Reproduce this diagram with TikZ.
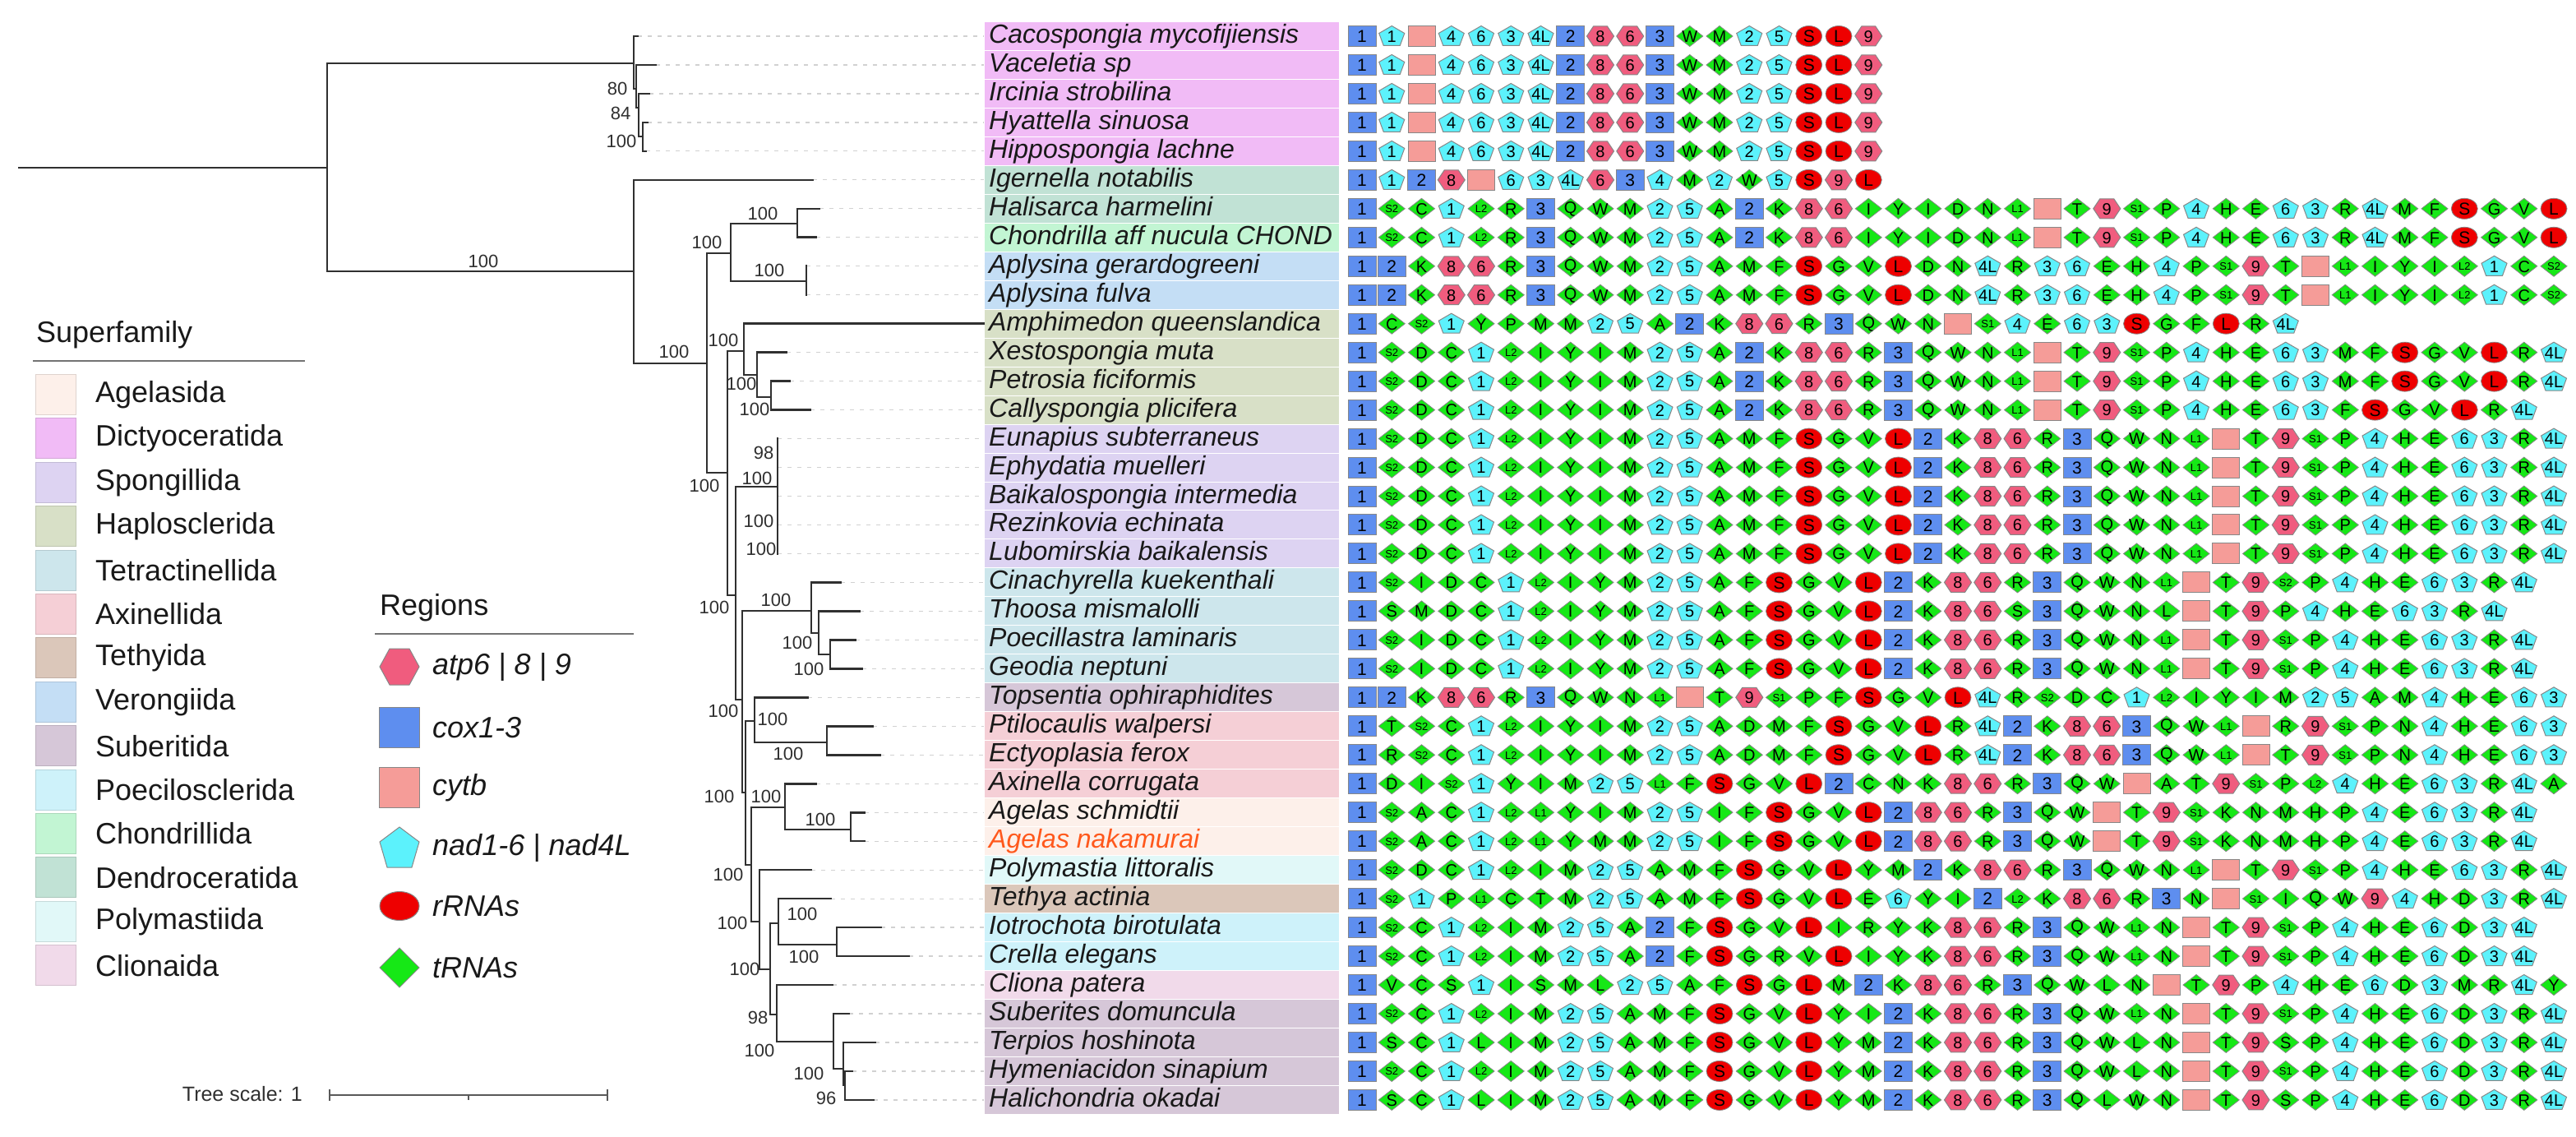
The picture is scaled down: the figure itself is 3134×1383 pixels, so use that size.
\documentclass[tikz,border=0pt]{standalone}
\usepackage{fontspec}
\setmainfont{Liberation Sans}
\usetikzlibrary{calc}
\pgfdeclarelayer{bg}
\pgfsetlayers{bg,main}
% gene colours
\definecolor{coxc}{RGB}{94,142,239}
\definecolor{cytbc}{RGB}{245,156,152}
\definecolor{nadc}{RGB}{92,242,252}
\definecolor{atpc}{RGB}{240,92,126}
\definecolor{rrnac}{RGB}{238,0,0}
\definecolor{trnac}{RGB}{22,232,22}
\definecolor{edgec}{RGB}{135,135,135}
\definecolor{rowlc}{RGB}{150,150,150}
\definecolor{treec}{RGB}{48,48,48}
\definecolor{labtxt}{RGB}{25,25,25}
\definecolor{orangelab}{RGB}{255,88,28}
% superfamily colours
\definecolor{agel}{RGB}{253,240,234}
\definecolor{dict}{RGB}{241,187,246}
\definecolor{spon}{RGB}{221,211,242}
\definecolor{hapl}{RGB}{216,224,199}
\definecolor{tetr}{RGB}{205,230,236}
\definecolor{axin}{RGB}{245,207,214}
\definecolor{teth}{RGB}{219,199,186}
\definecolor{vero}{RGB}{196,222,245}
\definecolor{sube}{RGB}{214,199,216}
\definecolor{poec}{RGB}{206,242,250}
\definecolor{chon}{RGB}{194,245,211}
\definecolor{dend}{RGB}{193,226,213}
\definecolor{poly}{RGB}{225,248,248}
\definecolor{clio}{RGB}{241,218,234}

\def\splitgene#1#2\relax{\def\gtype{#1}\def\glabel{#2}}
\newcommand\gshapeB{\filldraw[fill=coxc,draw=edgec,line width=1pt] (-17,-12.5) rectangle (17,12.5);}
\newcommand\gshapeY{\filldraw[fill=cytbc,draw=edgec,line width=1pt] (-16.5,-12.5) rectangle (16.5,12.5);}
\newcommand\gshapeN{\filldraw[fill=nadc,draw=edgec,line width=1pt] (0,-12.5) -- (15.5,-3.5) -- (10,11.5) -- (-10,11.5) -- (-15.5,-3.5) -- cycle;}
\newcommand\gshapeA{\filldraw[fill=atpc,draw=edgec,line width=1pt] (-16.5,0) -- (-8.5,-12) -- (8.5,-12) -- (16.5,0) -- (8.5,12) -- (-8.5,12) -- cycle;}
\newcommand\gshapeR{\filldraw[fill=rrnac,draw=edgec,line width=0.8pt] (0,0) ellipse [x radius=16pt, y radius=12.5pt];}
\newcommand\gshapeT{\filldraw[fill=trnac,draw=edgec,line width=0.8pt] (-16,0) -- (0,-12.5) -- (16,0) -- (0,12.5) -- cycle;}
\let\gshapeU\gshapeT
\def\gfontB{\fontsize{21}{21}\selectfont}
\def\gfontY{\fontsize{21}{21}\selectfont}
\def\gfontN{\fontsize{20}{20}\selectfont}
\def\gfontA{\fontsize{20}{20}\selectfont}
\def\gfontR{\fontsize{21}{21}\selectfont}
\def\gfontT{\fontsize{20}{20}\selectfont}
\def\gfontU{\fontsize{13}{13}\selectfont}

\newcommand\generow[2]{%
  \pgfmathsetmacro\gy{44+34.97*#1}%
  \foreach \gitem [count=\k from 0] in {#2}{%
    \expandafter\splitgene\gitem\relax
    \pgfmathsetmacro\gx{1657+36.25*\k}%
    \begin{scope}[shift={(\gx,\gy)}]
      \csname gshape\gtype\endcsname
      \node[gtext] (g-#1-\k) at (0,0.5) {\csname gfont\gtype\endcsname\glabel};
    \end{scope}
    \xdef\lastk{\k}%
  }%
  \begin{pgfonlayer}{bg}
    \draw[rowline] (g-#1-0.center) -- (g-#1-\lastk.center);
  \end{pgfonlayer}%
}

\tikzset{
  tree/.style={draw=treec,line width=2.6pt,line cap=rect},
  leader/.style={draw=black!18,line width=1.2pt,dash pattern=on 5pt off 7pt},
  bs/.style={font=\fontsize{22}{22}\selectfont,text=treec,inner sep=0pt},
  splab/.style={anchor=west,inner sep=0pt,minimum width=432pt,minimum height=35pt,
    draw=white,line width=1pt},
  sptext/.style={anchor=base west,inner sep=0pt,font=\fontsize{32}{32}\selectfont\itshape},
  gtext/.style={inner sep=0pt,text=black},
  rowline/.style={draw=rowlc,line width=1.5pt},
  legtext/.style={anchor=west,inner sep=0pt,text=labtxt,font=\fontsize{36}{36}\selectfont},
  legitext/.style={anchor=west,inner sep=0pt,text=labtxt,font=\fontsize{36}{36}\selectfont\itshape},
  legsq/.style={minimum width=49pt,minimum height=49pt,inner sep=0pt,line width=1pt},
  legrule/.style={draw=black!55,line width=2pt},
}

\begin{document}
\begin{tikzpicture}[x=1pt,y=-1pt]
\fill[white] (0,0) rectangle (3134,1383);
\useasboundingbox (0,0) rectangle (3134,1383);

% ---------------- species labels ----------------
\foreach \i/\nm/\col/\tc in {
0/Cacospongia mycofijiensis/dict/labtxt,
1/Vaceletia sp/dict/labtxt,
2/Ircinia strobilina/dict/labtxt,
3/Hyattella sinuosa/dict/labtxt,
4/Hippospongia lachne/dict/labtxt,
5/Igernella notabilis/dend/labtxt,
6/Halisarca harmelini/dend/labtxt,
7/Chondrilla aff nucula CHOND/chon/labtxt,
8/Aplysina gerardogreeni/vero/labtxt,
9/Aplysina fulva/vero/labtxt,
10/Amphimedon queenslandica/hapl/labtxt,
11/Xestospongia muta/hapl/labtxt,
12/Petrosia ficiformis/hapl/labtxt,
13/Callyspongia plicifera/hapl/labtxt,
14/Eunapius subterraneus/spon/labtxt,
15/Ephydatia muelleri/spon/labtxt,
16/Baikalospongia intermedia/spon/labtxt,
17/Rezinkovia echinata/spon/labtxt,
18/Lubomirskia baikalensis/spon/labtxt,
19/Cinachyrella kuekenthali/tetr/labtxt,
20/Thoosa mismalolli/tetr/labtxt,
21/Poecillastra laminaris/tetr/labtxt,
22/Geodia neptuni/tetr/labtxt,
23/Topsentia ophiraphidites/sube/labtxt,
24/Ptilocaulis walpersi/axin/labtxt,
25/Ectyoplasia ferox/axin/labtxt,
26/Axinella corrugata/axin/labtxt,
27/Agelas schmidtii/agel/labtxt,
28/Agelas nakamurai/agel/orangelab,
29/Polymastia littoralis/poly/labtxt,
30/Tethya actinia/teth/labtxt,
31/Iotrochota birotulata/poec/labtxt,
32/Crella elegans/poec/labtxt,
33/Cliona patera/clio/labtxt,
34/Suberites domuncula/sube/labtxt,
35/Terpios hoshinota/sube/labtxt,
36/Hymeniacidon sinapium/sube/labtxt,
37/Halichondria okadai/sube/labtxt}{
  \pgfmathsetmacro\yy{44+34.97*\i}
  \pgfmathsetmacro\yb{\yy+8.5}
  \node[splab,fill=\col] (lab\i) at (1197,\yy) {};
  \node[sptext,text=\tc] (labt\i) at (1203,\yb) {\nm};
}

% ---------------- tree ----------------
\foreach \i/\lx in {0/776,1/798,2/790,3/788,4/786,5/989,6/997,7/993,8/981,9/981,10/1197,
  11/957,12/961,13/986,14/946,15/946,16/946,17/946,18/946,19/1023,20/1046,21/1041,22/1049,
  23/983,24/1062,25/1071,26/993,27/1052,28/1052,29/987,30/1011,31/1072,32/1106,33/1013,
  34/1033,35/1065,36/1037,37/1063}{
  \pgfmathsetmacro\yy{44+34.97*\i}
  \coordinate (lf\i) at (\lx,\yy);
}
\foreach \i in {0,...,9,11,12,...,37}{
  \draw[leader] (lf\i) -- (lf\i -| lab\i.west);
}
\coordinate (rootstart) at (23,204);
\coordinate (R0) at (398,204);
\coordinate (D) at (771,77);
\coordinate (B) at (774,108);
\coordinate (C) at (777,131);
\coordinate (Dn) at (782,166);
\coordinate (E) at (771,330);
\coordinate (F) at (860,442);
\coordinate (G) at (889,308);
\coordinate (H) at (970,272);
\coordinate (I) at (981,342);
\coordinate (J) at (885,575);
\coordinate (K) at (905,427);
\coordinate (L) at (921,456);
\coordinate (M) at (938,483);
\coordinate (N) at (895,724);
\coordinate (O) at (946,592);
\coordinate (P) at (903,851);
\coordinate (Q) at (987,743);
\coordinate (R) at (996,770);
\coordinate (S) at (1010,796);
\coordinate (X) at (907,964);
\coordinate (V) at (918,877);
\coordinate (W) at (1006,903);
\coordinate (Y) at (914,1052);
\coordinate (Z) at (955,982);
\coordinate (AA) at (1035,1009);
\coordinate (AB) at (924,1121);
\coordinate (AC) at (937,1179);
\coordinate (AD) at (947,1123);
\coordinate (AE) at (1018,1149);
\coordinate (AF) at (945,1234);
\coordinate (AG) at (1014,1267);
\coordinate (AH) at (1026,1300);
\coordinate (AI) at (1028,1320);

\draw[tree] (rootstart) -- (R0);
\foreach \p/\c in {R0/D,R0/E,D/lf0,D/B,B/lf1,B/C,C/lf2,C/Dn,Dn/lf3,Dn/lf4,
  E/lf5,E/F,F/G,F/J,G/H,G/I,H/lf6,H/lf7,I/lf8,I/lf9,
  J/K,J/N,K/lf10,K/L,L/lf11,L/M,M/lf12,M/lf13,
  N/O,N/P,O/lf14,O/lf15,O/lf16,O/lf17,O/lf18,
  P/Q,P/X,Q/lf19,Q/R,R/lf20,R/S,S/lf21,S/lf22,
  X/V,X/Y,V/lf23,V/W,W/lf24,W/lf25,
  Y/Z,Y/AB,Z/lf26,Z/AA,AA/lf27,AA/lf28,
  AB/lf29,AB/AC,AC/AD,AC/AF,AD/lf30,AD/AE,AE/lf31,AE/lf32,
  AF/lf33,AF/AG,AG/lf34,AG/AH,AH/lf35,AH/AI,AI/lf36,AI/lf37}{
  \draw[tree] (\p) |- (\c);
}

% bootstrap values
\foreach \t/\bx/\by [count=\n] in {100/588/318,80/751/108,84/755/138,100/756/172,
  100/820/428,100/860/295,100/928/260,100/936/329,100/857/591,100/880/414,
  100/902/467,100/918/498,100/869/739,98/929/551,100/921/582,100/923/634,
  100/926/668,100/944/730,100/970/782,100/984/814,100/880/865,100/940/875,
  100/959/917,100/875/969,100/932/969,100/998/997,100/886/1064,100/891/1123,
  100/976/1112,100/978/1164,100/906/1179,98/922/1238,100/924/1278,
  100/984/1306,96/1005/1336}{
  \node[bs] (bs\n) at (\bx,\by) {\t};
}

% ---------------- gene orders ----------------
\generow{0}{B1,N1,Y,N4,N6,N3,N4L,B2,A8,A6,B3,TW,TM,N2,N5,RS,RL,A9}
\generow{1}{B1,N1,Y,N4,N6,N3,N4L,B2,A8,A6,B3,TW,TM,N2,N5,RS,RL,A9}
\generow{2}{B1,N1,Y,N4,N6,N3,N4L,B2,A8,A6,B3,TW,TM,N2,N5,RS,RL,A9}
\generow{3}{B1,N1,Y,N4,N6,N3,N4L,B2,A8,A6,B3,TW,TM,N2,N5,RS,RL,A9}
\generow{4}{B1,N1,Y,N4,N6,N3,N4L,B2,A8,A6,B3,TW,TM,N2,N5,RS,RL,A9}
\generow{5}{B1,N1,B2,A8,Y,N6,N3,N4L,A6,B3,N4,TM,N2,TW,N5,RS,A9,RL}
\generow{6}{B1,US2,TC,N1,UL2,TR,B3,TQ,TW,TM,N2,N5,TA,B2,TK,A8,A6,TI,TY,TI,TD,TN,UL1,Y,TT,A9,US1,TP,N4,TH,TE,N6,N3,TR,N4L,TM,TF,RS,TG,TV,RL}
\generow{7}{B1,US2,TC,N1,UL2,TR,B3,TQ,TW,TM,N2,N5,TA,B2,TK,A8,A6,TI,TY,TI,TD,TN,UL1,Y,TT,A9,US1,TP,N4,TH,TE,N6,N3,TR,N4L,TM,TF,RS,TG,TV,RL}
\generow{8}{B1,B2,TK,A8,A6,TR,B3,TQ,TW,TM,N2,N5,TA,TM,TF,RS,TG,TV,RL,TD,TN,N4L,TR,N3,N6,TE,TH,N4,TP,US1,A9,TT,Y,UL1,TI,TY,TI,UL2,N1,TC,US2}
\generow{9}{B1,B2,TK,A8,A6,TR,B3,TQ,TW,TM,N2,N5,TA,TM,TF,RS,TG,TV,RL,TD,TN,N4L,TR,N3,N6,TE,TH,N4,TP,US1,A9,TT,Y,UL1,TI,TY,TI,UL2,N1,TC,US2}
\generow{10}{B1,TC,US2,N1,TY,TP,TM,TM,N2,N5,TA,B2,TK,A8,A6,TR,B3,TQ,TW,TN,Y,US1,N4,TE,N6,N3,RS,TG,TF,RL,TR,N4L}
\generow{11}{B1,US2,TD,TC,N1,UL2,TI,TY,TI,TM,N2,N5,TA,B2,TK,A8,A6,TR,B3,TQ,TW,TN,UL1,Y,TT,A9,US1,TP,N4,TH,TE,N6,N3,TM,TF,RS,TG,TV,RL,TR,N4L}
\generow{12}{B1,US2,TD,TC,N1,UL2,TI,TY,TI,TM,N2,N5,TA,B2,TK,A8,A6,TR,B3,TQ,TW,TN,UL1,Y,TT,A9,US1,TP,N4,TH,TE,N6,N3,TM,TF,RS,TG,TV,RL,TR,N4L}
\generow{13}{B1,US2,TD,TC,N1,UL2,TI,TY,TI,TM,N2,N5,TA,B2,TK,A8,A6,TR,B3,TQ,TW,TN,UL1,Y,TT,A9,US1,TP,N4,TH,TE,N6,N3,TF,RS,TG,TV,RL,TR,N4L}
\generow{14}{B1,US2,TD,TC,N1,UL2,TI,TY,TI,TM,N2,N5,TA,TM,TF,RS,TG,TV,RL,B2,TK,A8,A6,TR,B3,TQ,TW,TN,UL1,Y,TT,A9,US1,TP,N4,TH,TE,N6,N3,TR,N4L}
\generow{15}{B1,US2,TD,TC,N1,UL2,TI,TY,TI,TM,N2,N5,TA,TM,TF,RS,TG,TV,RL,B2,TK,A8,A6,TR,B3,TQ,TW,TN,UL1,Y,TT,A9,US1,TP,N4,TH,TE,N6,N3,TR,N4L}
\generow{16}{B1,US2,TD,TC,N1,UL2,TI,TY,TI,TM,N2,N5,TA,TM,TF,RS,TG,TV,RL,B2,TK,A8,A6,TR,B3,TQ,TW,TN,UL1,Y,TT,A9,US1,TP,N4,TH,TE,N6,N3,TR,N4L}
\generow{17}{B1,US2,TD,TC,N1,UL2,TI,TY,TI,TM,N2,N5,TA,TM,TF,RS,TG,TV,RL,B2,TK,A8,A6,TR,B3,TQ,TW,TN,UL1,Y,TT,A9,US1,TP,N4,TH,TE,N6,N3,TR,N4L}
\generow{18}{B1,US2,TD,TC,N1,UL2,TI,TY,TI,TM,N2,N5,TA,TM,TF,RS,TG,TV,RL,B2,TK,A8,A6,TR,B3,TQ,TW,TN,UL1,Y,TT,A9,US1,TP,N4,TH,TE,N6,N3,TR,N4L}
\generow{19}{B1,US2,TI,TD,TC,N1,UL2,TI,TY,TM,N2,N5,TA,TF,RS,TG,TV,RL,B2,TK,A8,A6,TR,B3,TQ,TW,TN,UL1,Y,TT,A9,US2,TP,N4,TH,TE,N6,N3,TR,N4L}
\generow{20}{B1,TS,TM,TD,TC,N1,UL2,TI,TY,TM,N2,N5,TA,TF,RS,TG,TV,RL,B2,TK,A8,A6,TS,B3,TQ,TW,TN,TL,Y,TT,A9,TP,N4,TH,TE,N6,N3,TR,N4L}
\generow{21}{B1,US2,TI,TD,TC,N1,UL2,TI,TY,TM,N2,N5,TA,TF,RS,TG,TV,RL,B2,TK,A8,A6,TR,B3,TQ,TW,TN,UL1,Y,TT,A9,US1,TP,N4,TH,TE,N6,N3,TR,N4L}
\generow{22}{B1,US2,TI,TD,TC,N1,UL2,TI,TY,TM,N2,N5,TA,TF,RS,TG,TV,RL,B2,TK,A8,A6,TR,B3,TQ,TW,TN,UL1,Y,TT,A9,US1,TP,N4,TH,TE,N6,N3,TR,N4L}
\generow{23}{B1,B2,TK,A8,A6,TR,B3,TQ,TW,TN,UL1,Y,TT,A9,US1,TP,TF,RS,TG,TV,RL,N4L,TR,US2,TD,TC,N1,UL2,TI,TY,TI,TM,N2,N5,TA,TM,N4,TH,TE,N6,N3}
\generow{24}{B1,TT,US2,TC,N1,UL2,TI,TY,TI,TM,N2,N5,TA,TD,TM,TF,RS,TG,TV,RL,TR,N4L,B2,TK,A8,A6,B3,TQ,TW,UL1,Y,TR,A9,US1,TP,TN,N4,TH,TE,N6,N3}
\generow{25}{B1,TR,US2,TC,N1,UL2,TI,TY,TI,TM,N2,N5,TA,TD,TM,TF,RS,TG,TV,RL,TR,N4L,B2,TK,A8,A6,B3,TQ,TW,UL1,Y,TT,A9,US1,TP,TN,N4,TH,TE,N6,N3}
\generow{26}{B1,TD,TI,US2,N1,TY,TI,TM,N2,N5,UL1,TF,RS,TG,TV,RL,B2,TC,TN,TK,A8,A6,TR,B3,TQ,TW,Y,TA,TT,A9,US1,TP,UL2,N4,TH,TE,N6,N3,TR,N4L,TA}
\generow{27}{B1,US2,TA,TC,N1,UL2,UL1,TY,TI,TM,N2,N5,TI,TF,RS,TG,TV,RL,B2,A8,A6,TR,B3,TQ,TW,Y,TT,A9,US1,TK,TN,TM,TH,TP,N4,TE,N6,N3,TR,N4L}
\generow{28}{B1,US2,TA,TC,N1,UL2,UL1,TY,TM,TM,N2,N5,TI,TF,RS,TG,TV,RL,B2,A8,A6,TR,B3,TQ,TW,Y,TT,A9,US1,TK,TN,TM,TH,TP,N4,TE,N6,N3,TR,N4L}
\generow{29}{B1,US2,TD,TC,N1,UL2,TI,TM,N2,N5,TA,TM,TF,RS,TG,TV,RL,TY,TM,B2,TK,A8,A6,TR,B3,TQ,TW,TN,UL1,Y,TT,A9,US1,TP,N4,TH,TE,N6,N3,TR,N4L}
\generow{30}{B1,US2,N1,TP,UL1,TC,TT,TM,N2,N5,TA,TM,TF,RS,TG,TV,RL,TE,N6,TY,TI,B2,UL2,TK,A8,A6,TR,B3,TN,Y,US1,TI,TQ,TW,A9,N4,TH,TD,N3,TR,N4L}
\generow{31}{B1,US2,TC,N1,UL2,TI,TM,N2,N5,TA,B2,TF,RS,TG,TV,RL,TI,TR,TY,TK,A8,A6,TR,B3,TQ,TW,UL1,TN,Y,TT,A9,US1,TP,N4,TH,TE,N6,TD,N3,N4L}
\generow{32}{B1,US2,TC,N1,UL2,TI,TM,N2,N5,TA,B2,TF,RS,TG,TR,TV,RL,TI,TY,TK,A8,A6,TR,B3,TQ,TW,UL1,TN,Y,TT,A9,US1,TP,N4,TH,TE,N6,TD,N3,N4L}
\generow{33}{B1,TV,TC,TS,N1,TI,TS,TM,TL,N2,N5,TA,TF,RS,TG,RL,TM,B2,TK,A8,A6,TR,B3,TQ,TW,TL,TN,Y,TT,A9,TP,N4,TH,TE,N6,TD,N3,TM,TR,N4L,TY}
\generow{34}{B1,US2,TC,N1,UL2,TI,TM,N2,N5,TA,TM,TF,RS,TG,TV,RL,TY,TI,B2,TK,A8,A6,TR,B3,TQ,TW,UL1,TN,Y,TT,A9,US1,TP,N4,TH,TE,N6,TD,N3,TR,N4L}
\generow{35}{B1,TS,TC,N1,TL,TI,TM,N2,N5,TA,TM,TF,RS,TG,TV,RL,TY,TM,B2,TK,A8,A6,TR,B3,TQ,TW,TL,TN,Y,TT,A9,TS,TP,N4,TH,TE,N6,TD,N3,TR,N4L}
\generow{36}{B1,US2,TC,N1,UL2,TI,TM,N2,N5,TA,TM,TF,RS,TG,TV,RL,TY,TM,B2,TK,A8,A6,TR,B3,TQ,TW,TL,TN,Y,TT,A9,US1,TP,N4,TH,TE,N6,TD,N3,TR,N4L}
\generow{37}{B1,TS,TC,N1,TL,TI,TM,N2,N5,TA,TM,TF,RS,TG,TV,RL,TY,TM,B2,TK,A8,A6,TR,B3,TQ,TL,TW,TN,Y,TT,A9,TS,TP,N4,TH,TE,N6,TD,N3,TR,N4L}

% ---------------- Superfamily legend ----------------
\node[legtext] (sftitle) at (44,407) {Superfamily};
\coordinate (sfr1) at (40,439);
\coordinate (sfr2) at (371,439);
\draw[legrule] (sfr1) -- (sfr2);
\foreach \nm/\col [count=\k from 0] in {Agelasida/agel,Dictyoceratida/dict,Spongillida/spon,
  Haplosclerida/hapl,Tetractinellida/tetr,Axinellida/axin,Tethyida/teth,Verongiida/vero,
  Suberitida/sube,Poecilosclerida/poec,Chondrillida/chon,Dendroceratida/dend,
  Polymastiida/poly,Clionaida/clio}{
  \pgfmathsetmacro\yy{480+53.4*\k}
  \node[legsq,fill=\col,draw=\col!88!black] (sfsq\k) at (68,\yy) {};
  \node[legtext] (sftx\k) at (116,\yy) {\nm};
}

% ---------------- Regions legend ----------------
\node[legtext] (rgtitle) at (462,739) {Regions};
\coordinate (rgr1) at (456,771);
\coordinate (rgr2) at (771,771);
\draw[legrule,line width=1.5pt] (rgr1) -- (rgr2);
\begin{scope}[shift={(486,811)}]
  \filldraw[fill=atpc,draw=edgec,line width=1pt] (-24,0) -- (-12,-22) -- (12,-22) -- (24,0) -- (12,22) -- (-12,22) -- cycle;
  \node[inner sep=0pt] (rgs1) at (0,0) {};
\end{scope}
\begin{scope}[shift={(486,885)}]
  \filldraw[fill=coxc,draw=edgec,line width=1pt] (-24.5,-24.5) rectangle (24.5,24.5);
  \node[inner sep=0pt] (rgs2) at (0,0) {};
\end{scope}
\begin{scope}[shift={(486,958)}]
  \filldraw[fill=cytbc,draw=edgec,line width=1pt] (-24.5,-24.5) rectangle (24.5,24.5);
  \node[inner sep=0pt] (rgs3) at (0,0) {};
\end{scope}
\begin{scope}[shift={(486,1031)}]
  \filldraw[fill=nadc,draw=edgec,line width=1pt] (0,-25) -- (24,-7) -- (15,24) -- (-15,24) -- (-24,-7) -- cycle;
  \node[inner sep=0pt] (rgs4) at (0,0) {};
\end{scope}
\begin{scope}[shift={(486,1102)}]
  \filldraw[fill=rrnac,draw=edgec,line width=1pt] (0,0) ellipse [x radius=24pt, y radius=17.5pt];
  \node[inner sep=0pt] (rgs5) at (0,0) {};
\end{scope}
\begin{scope}[shift={(486,1177)}]
  \filldraw[fill=trnac,draw=edgec,line width=1pt] (-24,0) -- (0,-24) -- (24,0) -- (0,24) -- cycle;
  \node[inner sep=0pt] (rgs6) at (0,0) {};
\end{scope}
\node[legitext] (rgt1) at (526,811) {atp6 | 8 | 9};
\node[legitext] (rgt2) at (526,885) {cox1-3};
\node[legitext] (rgt3) at (526,958) {cytb};
\node[legitext] (rgt4) at (526,1031) {nad1-6 | nad4L};
\node[legitext] (rgt5) at (526,1102) {rRNAs};
\node[legitext] (rgt6) at (526,1177) {tRNAs};

% ---------------- tree scale ----------------
\node[anchor=east,inner sep=0pt,text=treec,font=\fontsize{25}{25}\selectfont] (tscale) at (368,1331) {Tree scale: 1};
\coordinate (sb1) at (401,1332);
\coordinate (sb2) at (739,1332);
\coordinate (sbm) at (570,1332);
\draw[draw=black!65,line width=2pt] (sb1) -- (sb2);
\draw[draw=black!65,line width=2pt] ($(sb1)+(0,-7)$) -- ($(sb1)+(0,7)$);
\draw[draw=black!65,line width=2pt] ($(sb2)+(0,-7)$) -- ($(sb2)+(0,7)$);
\draw[draw=black!65,line width=2pt] (sbm) -- ($(sbm)+(0,6)$);
\end{tikzpicture}
\end{document}
